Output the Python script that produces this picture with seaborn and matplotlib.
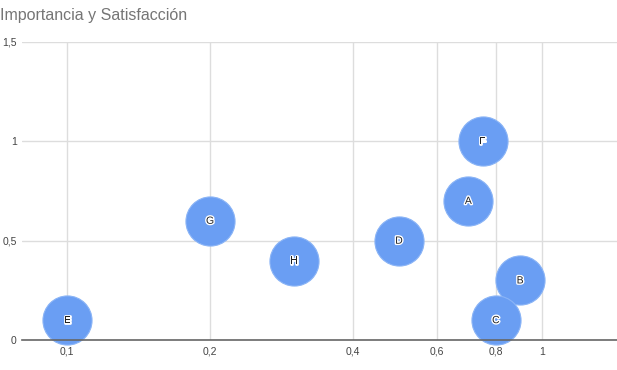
import pandas as pd
import matplotlib.pyplot as plt
import matplotlib.patheffects as pe
import seaborn as sns

# Data
labels = ['A', 'B', 'C', 'D', 'E', 'F', 'G', 'H']
satisfaccion = [0.7, 0.9, 0.8, 0.5, 0.1, 0.75, 0.2, 0.3]
importancia = [0.7, 0.3, 0.1, 0.5, 0.1, 1.0, 0.6, 0.4]
x_ticks = [0.1, 0.2, 0.4, 0.6, 0.8, 1]
x_tick_labels = ['0,1', '0,2', '0,4', '0,6', '0,8', '1']
y_ticks = [0, 0.5, 1, 1.5]
y_tick_labels = ['0', '0,5', '1', '1,5']

data = pd.DataFrame({'Etiqueta': labels, 'Satisfaccion': satisfaccion,
                     'Importancia': importancia})

sns.set_style('white')
plt.rcParams['font.family'] = ['Liberation Sans', 'DejaVu Sans']

fig = plt.figure(figsize=(6.17, 3.7), dpi=100)
ax = fig.add_axes([0.036, 0.081, 0.964, 0.8055])

ax.set_xscale('log')
sns.scatterplot(x='Satisfaccion', y='Importancia', data=data, ax=ax,
                s=1250, color='#6a9ef3', edgecolor='#8ab4f6', linewidth=0.8,
                alpha=1, zorder=3, clip_on=False, legend=False)

for _, row in data.iterrows():
    ax.text(row['Satisfaccion'], row['Importancia'], row['Etiqueta'],
            ha='center', va='center', fontsize=7.5, color='#222222', zorder=4,
            path_effects=[pe.withStroke(linewidth=2, foreground='white')])

ax.set_xlim(0.0804, 1.44)
ax.set_ylim(0, 1.5)
ax.set_xticks(x_ticks)
ax.set_xticklabels(x_tick_labels)
ax.minorticks_off()
ax.set_yticks(y_ticks)
ax.set_yticklabels(y_tick_labels)
ax.tick_params(axis='both', length=0, labelsize=7.5, colors='#444444')
ax.tick_params(axis='x', pad=5)
ax.tick_params(axis='y', pad=4)

ax.grid(True, color='#dddddd', linewidth=1)
ax.set_axisbelow(True)
for side in ['top', 'right', 'left']:
    ax.spines[side].set_visible(False)
ax.spines['bottom'].set_color('#666666')
ax.spines['bottom'].set_linewidth(1.2)
ax.spines['bottom'].set_zorder(5)
ax.set_xlabel('')
ax.set_ylabel('')

fig.text(0.0, 0.958, 'Importancia y Satisfacción', fontsize=11.5,
         color='#757575', ha='left', va='center')

fig.savefig('out.png', dpi=100)
